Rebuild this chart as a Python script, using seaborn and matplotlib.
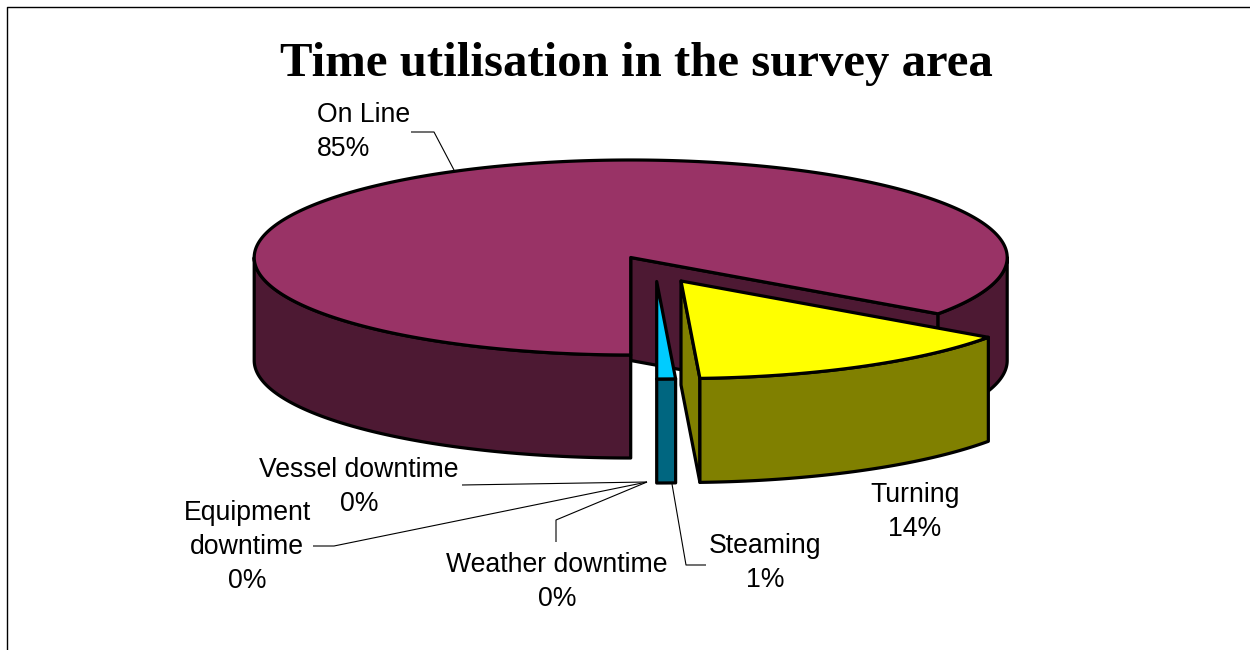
import numpy as np
import seaborn as sns
import matplotlib
matplotlib.use("Agg")
import matplotlib.pyplot as plt
from matplotlib.patches import Polygon

# Data, counter-clockwise from the bottom of the pie
categories = ["Vessel downtime", "Equipment downtime", "Weather downtime", "Steaming", "Turning", "On Line"]
values = [0.0, 0.0, 0.0, 0.8, 14.4, 84.8]
title = "Time utilisation in the survey area"

# Styles and layout
top_colors = ["#003366", "#FF00FF", "#FFFFFF", "#00CCFF", "#FFFF00", "#993366"]
side_colors = ["#00194D", "#800080", "#808080", "#006680", "#808000", "#4D1933"]
centres = [(656.7, 282), (656.7, 282), (656.7, 282), (656.7, 281.5), (681, 281), (630.7, 257.5)]
depths = [104, 104, 104, 104, 104, 103]
RX, RY = 376.5, 97.5
LW = 2.3

label_text = ["Vessel downtime", "Equipment\ndowntime", "Weather downtime", "Steaming", "Turning", "On Line"]
label_pos = [(359, 487), (247, 547), (557, 582), (765, 563), (915, 512), (317, 132)]
label_ha = ["center", "center", "center", "center", "center", "left"]
leaders = [
    [(462, 485), (647, 482)],
    [(313, 546), (334, 546), (647, 482)],
    [(556, 542), (556, 520), (647, 482)],
    [(672, 484), (686, 565), (706, 565)],
    None,
    [(411, 132), (434, 132), (454, 170)],
]

sns.set_theme(style="white")
plt.rcParams["font.family"] = ["Liberation Sans", "DejaVu Sans"]

fig = plt.figure(figsize=(12.5, 6.5), dpi=100, facecolor="white")
ax = fig.add_axes([0, 0, 1, 1])
ax.set_xlim(0, 1250)
ax.set_ylim(650, 0)
ax.axis("off")


def arc(c, a0, a1, dy=0.0):
    t = np.radians(np.linspace(a0, a1, max(int(abs(a1 - a0) * 2), 2)))
    return np.column_stack([c[0] + RX * np.cos(t), c[1] - RY * np.sin(t) + dy])


def poly(pts, fc, z):
    ax.add_patch(Polygon(pts, closed=True, facecolor=fc, edgecolor="black",
                         linewidth=LW, joinstyle="round", zorder=z))


def draw_wedge(c, a0, a1, top, side, depth, z):
    if np.cos(np.radians(a0)) > 1e-6:
        e = arc(c, a0, a0)[0]
        poly([c, e, (e[0], e[1] + depth), (c[0], c[1] + depth)], side, z)
    if np.cos(np.radians(a1)) < -1e-6:
        e = arc(c, a1, a1)[0]
        poly([c, e, (e[0], e[1] + depth), (c[0], c[1] + depth)], side, z)
    for lo, hi in ((-180, 0), (180, 360)):
        s, t = max(a0, lo), min(a1, hi)
        if t > s:
            poly(np.vstack([arc(c, s, t), arc(c, t, s, depth)]), side, z + 0.1)
    poly(np.vstack([[c], arc(c, a0, a1)]), top, z + 0.2)


total = sum(values)
sweeps = np.array(values) / total * 360
edges = -90 + np.concatenate([[0], np.cumsum(sweeps)])

layer = {5: 2, 3: 3, 4: 4}
for i in layer:
    if values[i] > 0:
        draw_wedge(centres[i], edges[i], edges[i + 1], top_colors[i], side_colors[i], depths[i], layer[i])

for name, v, pos, ha, line in zip(label_text, values, label_pos, label_ha, leaders):
    ax.text(pos[0], pos[1], f"{name}\n{round(v)}%", ha=ha, va="center", multialignment=ha,
            fontsize=19.2, color="black", linespacing=1.41, zorder=6)
    if line is not None:
        xs, ys = zip(*line)
        ax.plot(xs, ys, color="black", lw=0.8, zorder=5, solid_capstyle="butt")

ax.text(636, 64, title, ha="center", va="center", fontsize=35.1, fontweight="bold",
        family="Liberation Serif", color="black")

# chart area frame: left and top edges only
ax.plot([7, 7, 1250], [650, 6.5, 6.5], color="black", lw=1.0, zorder=1)

fig.savefig("out.png", dpi=100)
